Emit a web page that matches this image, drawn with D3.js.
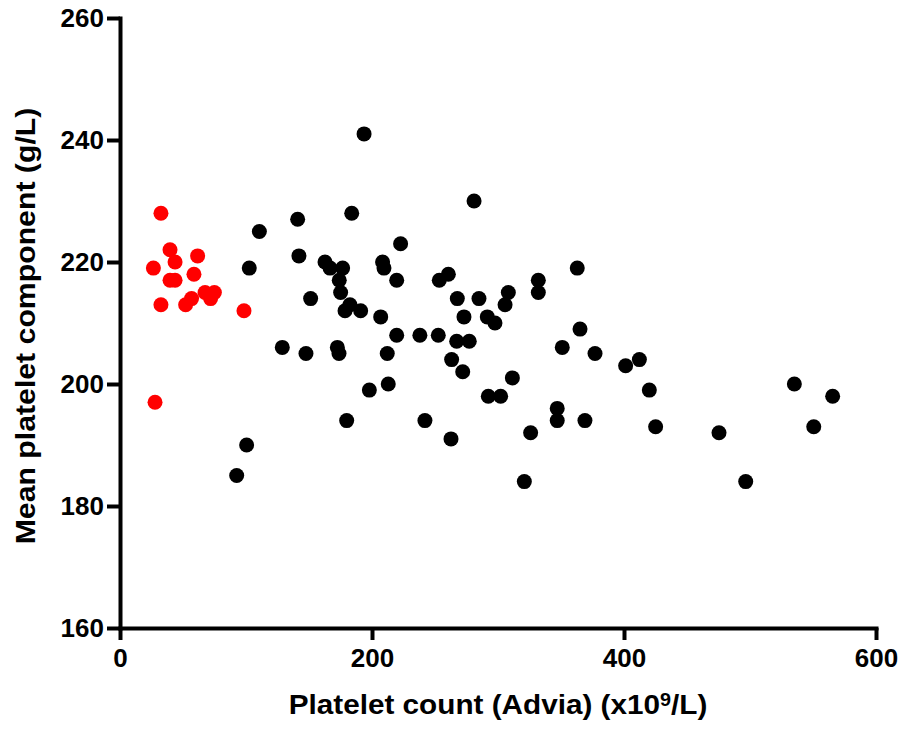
<!DOCTYPE html>
<html><head><meta charset="utf-8">
<script src="https://cdn.jsdelivr.net/npm/d3@7"></script>
<style>body{margin:0;background:#fff}svg{display:block}</style>
</head><body>
<svg id="c" width="904" height="731"></svg>
<script>
const xTicks = [0, 200, 400, 600];
const yTicks = [160, 180, 200, 220, 240, 260];
const xLabel = "Platelet count (Advia) (x10";
const yLabel = "Mean platelet component (g/L)";

const redX = [32.5, 39.7, 43.7, 61.6, 26.5, 39.7, 43.7, 58.7, 32.5, 52.1, 56.8, 67.5, 74.9, 71.9, 98.4, 27.8];
const redY = [228, 222, 220, 221, 219, 217, 217, 218, 213, 213, 214, 215, 215, 214, 212, 197];

const blackX = [110.6, 141, 142, 102.6, 128.8, 92.6, 100.5,
  193.7, 183.9, 222.7, 162.7, 166.7, 176.7, 208.4, 209.5, 174, 219.6, 151.3, 175.1, 182.5, 178.6, 191, 206.9, 219.6, 238, 147.6, 172.5, 173.8, 212.1, 212.9, 197.9, 179.9, 242,
  281, 260.6, 253.4, 362.9, 332, 332, 308.2, 305.6, 267.7, 284.9, 273, 291.5, 297.6, 365.1, 252.6, 267.2, 277.2, 263.2, 272, 351, 377, 311.4, 292.3, 302.1, 347, 347, 369, 262.7, 325.9, 320.9,
  401.3, 412.2, 420.1, 425.1, 475.4, 496.6, 535.2, 565.6, 550.6];
const blackY = [225, 227, 221, 219, 206, 185, 190,
  241, 228, 223, 220, 219, 219, 220, 219, 217, 217, 214, 215, 213, 212, 212, 211, 208, 208, 205, 206, 205, 205, 200, 199, 194, 194,
  230, 218, 217, 219, 217, 215, 215, 213, 214, 214, 211, 211, 210, 209, 208, 207, 207, 204, 202, 206, 205, 201, 198, 198, 196, 194, 194, 191, 192, 184,
  203, 204, 199, 193, 192, 184, 200, 198, 193];

const svg = d3.select("#c");
const x = d3.scaleLinear().domain([0, 600]).range([120, 876]);
const y = d3.scaleLinear().domain([160, 260]).range([628, 18]);
const font = "Liberation Sans, Arial, sans-serif";

const gx = svg.append("g").attr("transform", "translate(0,628)")
  .call(d3.axisBottom(x).tickValues(xTicks).tickFormat(d3.format("d")).tickSize(12).tickSizeOuter(0).tickPadding(9));
const gy = svg.append("g").attr("transform", "translate(120,0)")
  .call(d3.axisLeft(y).tickValues(yTicks).tickFormat(d3.format("d")).tickSize(13).tickSizeOuter(0).tickPadding(3));
[gx, gy].forEach(g => {
  g.select(".domain").attr("stroke", "#000").attr("stroke-width", 4).attr("stroke-linecap", "square");
  g.selectAll(".tick line").attr("stroke", "#000").attr("stroke-width", 4);
  g.selectAll("text").attr("fill", "#000").attr("font-family", font).attr("font-weight", "bold").attr("font-size", 26);
});

svg.append("g").selectAll("circle").data(blackX).join("circle")
  .attr("cx", (d) => x(d)).attr("cy", (d, i) => y(blackY[i])).attr("r", 7.5).attr("fill", "#000");
svg.append("g").selectAll("circle").data(redX).join("circle")
  .attr("cx", (d) => x(d)).attr("cy", (d, i) => y(redY[i])).attr("r", 7.5).attr("fill", "#f00");

const xt = svg.append("text").attr("transform", "translate(498,714) scale(1.1,1)").attr("text-anchor", "middle")
  .attr("font-family", font).attr("font-weight", "bold").attr("font-size", 27).attr("fill", "#000");
xt.append("tspan").text(xLabel);
xt.append("tspan").text("9").attr("font-size", 18).attr("dy", -8);
xt.append("tspan").text("/L)").attr("dy", 8);

svg.append("text").attr("transform", "translate(35,326) rotate(-90) scale(1.12,1)").attr("text-anchor", "middle")
  .attr("font-family", font).attr("font-weight", "bold").attr("font-size", 27).attr("fill", "#000")
  .text(yLabel);
</script>
</body></html>
